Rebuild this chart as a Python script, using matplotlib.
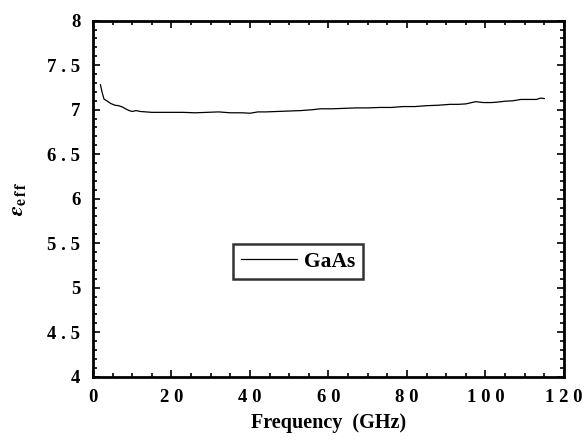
import numpy as np
import matplotlib.pyplot as plt
from matplotlib.ticker import MultipleLocator, FuncFormatter

plt.rcParams['font.family'] = 'Liberation Serif'
plt.rcParams['font.weight'] = 'bold'
plt.rcParams['mathtext.fontset'] = 'stix'

# frequency (GHz) and effective permittivity
freq = [1.9, 2.3, 2.8, 3.5, 4.5, 5.6, 6.5, 7.5, 8.3, 9.2, 10.0, 11.0, 12.0,
        13.5, 15.0, 17.0, 20.0, 23.0, 26.0, 29.0, 32.0, 35.0, 38.0, 40.0,
        42.0, 44.0, 47.0, 50.0, 53.0, 56.0, 58.0, 61.0, 64.0, 67.0, 70.0,
        73.0, 76.0, 79.0, 82.0, 85.0, 88.0, 91.0, 93.0, 95.0, 97.5, 99.5,
        101.5, 103.0, 105.0, 107.0, 109.0, 111.0, 113.0, 114.0, 115.0]
eps_eff = [7.28, 7.20, 7.12, 7.10, 7.07, 7.05, 7.045, 7.03, 7.01, 6.99,
           6.98, 6.99, 6.98, 6.975, 6.97, 6.97, 6.97, 6.97, 6.965, 6.97,
           6.975, 6.965, 6.965, 6.96, 6.975, 6.975, 6.98, 6.985, 6.99,
           7.0, 7.01, 7.01, 7.015, 7.02, 7.02, 7.025, 7.025, 7.035, 7.035,
           7.045, 7.05, 7.06, 7.06, 7.065, 7.09, 7.08, 7.08, 7.085, 7.095,
           7.10, 7.115, 7.115, 7.115, 7.13, 7.125]

fig = plt.figure(figsize=(5.87, 4.40), dpi=100)
ax = fig.add_axes([0.1584, 0.1439, 0.8024, 0.8091])

ax.plot(freq, eps_eff, color='black', lw=0.9, label='GaAs')

ax.set_xlim(0, 120)
ax.set_ylim(4, 8)
ax.xaxis.set_major_locator(MultipleLocator(20))
ax.xaxis.set_minor_locator(MultipleLocator(5))
ax.yaxis.set_major_locator(MultipleLocator(0.5))
ax.yaxis.set_minor_locator(MultipleLocator(0.1))


def spaced(v, pos):
    s = ('%g' % v)
    return ' '.join(s)


ax.xaxis.set_major_formatter(FuncFormatter(spaced))
ax.yaxis.set_major_formatter(FuncFormatter(spaced))
ax.tick_params(which='both', direction='in', top=True, right=True,
               labelsize=13.5, width=1.2)
ax.tick_params(which='major', length=5, pad=9)
ax.tick_params(which='minor', length=3)
for s in ax.spines.values():
    s.set_linewidth(2)

ax.set_xlabel('Frequency  (GHz)', fontsize=14.5, fontweight='bold', labelpad=5)
ax.set_ylabel(r'$\varepsilon_{\mathbf{e\,f\,f}}$', fontsize=16, labelpad=14)

leg = ax.legend(loc='upper left', bbox_to_anchor=(0.297, 0.373),
                borderaxespad=0, fontsize=15.5, frameon=True, fancybox=False,
                edgecolor='black', handlelength=2.6, handletextpad=0.35,
                borderpad=0.36)
leg.get_frame().set_linewidth(1.8)

fig.savefig('out.png', dpi=100)
